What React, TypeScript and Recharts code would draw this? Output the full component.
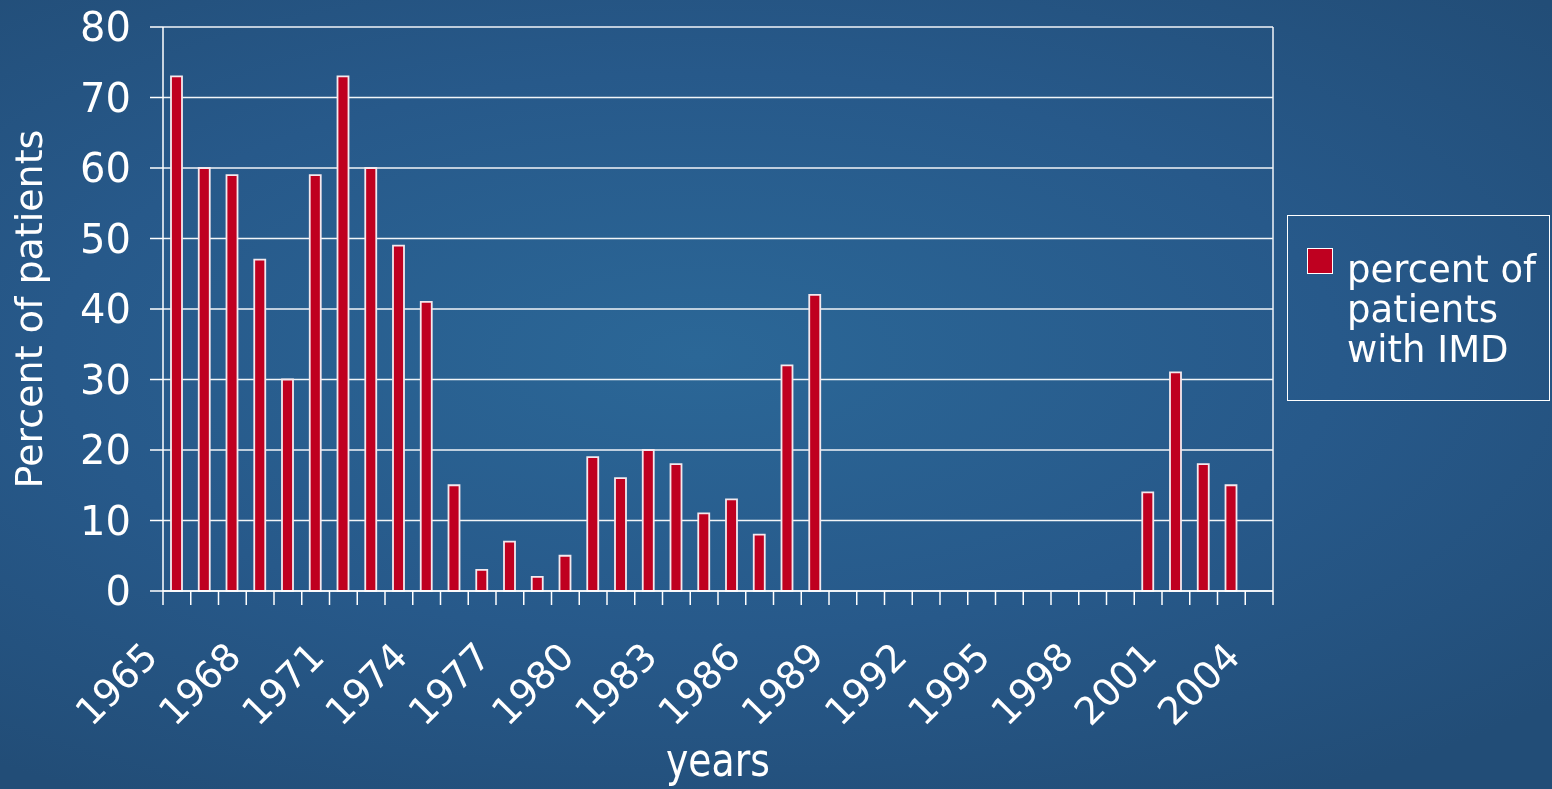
import React from 'react';
import { BarChart, Bar, XAxis, YAxis, CartesianGrid, Legend } from 'recharts';

const years = [
  '1965', '1966', '1967', '1968', '1969', '1970', '1971', '1972', '1973', '1974',
  '1975', '1976', '1977', '1978', '1979', '1980', '1981', '1982', '1983', '1984',
  '1985', '1986', '1987', '1988', '1989', '1990', '1991', '1992', '1993', '1994',
  '1995', '1996', '1997', '1998', '1999', '2000', '2001', '2002', '2003', '2004',
];

const percentIMD: (number | null)[] = [
  73, 60, 59, 47, 30, 59, 73, 60, 49, 41,
  15, 3, 7, 2, 5, 19, 16, 20, 18, 11,
  13, 8, 32, 42, null, null, null, null, null, null,
  null, null, null, null, null, 14, 31, 18, 15, null,
];

const yTicks = [0, 10, 20, 30, 40, 50, 60, 70, 80];

const data = years.map((year, i) => ({ year, value: percentIMD[i] }));

const FONT = '"DejaVu Sans", Verdana, sans-serif';
const BAR_RED = '#bf0020';

const YearTick = (props: any) => {
  const { x, y, payload, index } = props;
  const half = payload && payload.offset ? payload.offset : 13.875;
  const lx = x - 17;
  const ly = y + 68;
  return (
    <g>
      <line x1={x - half} y1={y} x2={x - half} y2={y + 14} stroke="#fff" strokeWidth={1.5} />
      {index === years.length - 1 && (
        <line x1={x + half} y1={y} x2={x + half} y2={y + 14} stroke="#fff" strokeWidth={1.5} />
      )}
      {index % 3 === 0 && (
        <text
          x={lx}
          y={ly}
          fill="#fff"
          fontSize={38}
          fontFamily={FONT}
          textAnchor="end"
          transform={`rotate(-45, ${lx}, ${ly})`}
        >
          {payload.value}
        </text>
      )}
    </g>
  );
};

const YLabel = (props: any) => {
  const vb = props.viewBox || {};
  const cx = 42;
  const cy = (vb.y ?? 27) + (vb.height ?? 564) / 2;
  return (
    <text
      x={cx}
      y={cy}
      fill="#fff"
      fontSize={38}
      fontFamily={FONT}
      textAnchor="middle"
      transform={`rotate(-90, ${cx}, ${cy})`}
    >
      Percent of patients
    </text>
  );
};

const XLabel = (props: any) => {
  const vb = props.viewBox || {};
  const cx = (vb.x ?? 163) + (vb.width ?? 1110) / 2;
  return (
    <text
      x={cx}
      y={(vb.y ?? 591) + 185}
      fill="#fff"
      fontSize={46}
      fontFamily={FONT}
      textAnchor="middle"
      textLength={104}
      lengthAdjust="spacingAndGlyphs"
    >
      years
    </text>
  );
};

const LegendBox = (props: any) => {
  const payload = props.payload || [];
  return (
    <div
      style={{
        width: 263,
        height: 186,
        boxSizing: 'border-box',
        border: '1.5px solid #fff',
        position: 'relative',
        fontFamily: FONT,
        color: '#fff',
      }}
    >
      {payload.map((entry: any) => (
        <React.Fragment key={entry.value}>
          <div
            style={{
              position: 'absolute',
              left: 19,
              top: 32,
              width: 26,
              height: 26,
              boxSizing: 'border-box',
              background: BAR_RED,
              border: '1.5px solid #fff',
            }}
          />
          <div
            style={{
              position: 'absolute',
              left: 59,
              top: 34,
              width: 200,
              fontSize: 37,
              lineHeight: '40px',
            }}
          >
            {entry.value}
          </div>
        </React.Fragment>
      ))}
    </div>
  );
};

export default function App() {
  return (
    <div
      style={{
        position: 'fixed',
        left: 0,
        top: 0,
        width: 1552,
        height: 789,
        background:
          'radial-gradient(ellipse 75% 65% at 45% 45%, #2b6797 0%, #27598a 55%, #224d77 100%)',
      }}
    >
      <BarChart
        width={1552}
        height={789}
        data={data}
        margin={{ top: 27, right: 279, bottom: 0, left: 0 }}
        barCategoryGap={0}
      >
        <CartesianGrid
          stroke="#f2f5f8"
          strokeWidth={1.5}
          vertical={true}
          verticalCoordinatesGenerator={({ offset }: any) => [offset.left + offset.width]}
        />
        <XAxis
          dataKey="year"
          interval={0}
          height={198}
          tickSize={0}
          tickMargin={0}
          tickLine={false}
          axisLine={{ stroke: '#fff', strokeWidth: 1.5 }}
          tick={<YearTick />}
          label={<XLabel />}
        />
        <YAxis
          width={163}
          domain={[0, 80]}
          ticks={yTicks}
          tickSize={13}
          tickMargin={19}
          axisLine={{ stroke: '#fff', strokeWidth: 1.5 }}
          tickLine={{ stroke: '#fff', strokeWidth: 1.5 }}
          tick={{ fill: '#fff', fontSize: 40, fontFamily: FONT }}
          label={<YLabel />}
        />
        <Legend
          layout="vertical"
          align="center"
          verticalAlign="middle"
          content={<LegendBox />}
          wrapperStyle={{ left: 1287, top: 215, width: 263, height: 186 }}
        />
        <Bar
          dataKey="value"
          name="percent of patients with IMD"
          fill={BAR_RED}
          stroke="#f4e9ee"
          strokeWidth={1.8}
          barSize={11}
          isAnimationActive={false}
        />
      </BarChart>
    </div>
  );
}
